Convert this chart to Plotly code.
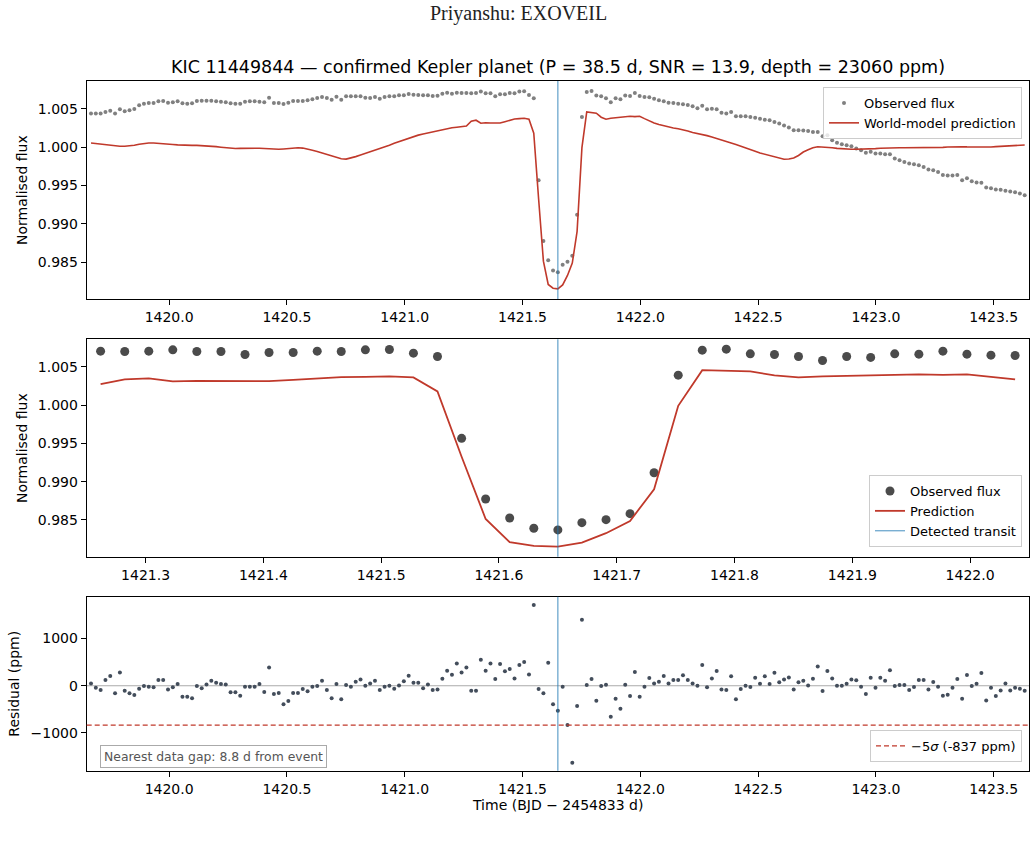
import plotly.graph_objects as go

# ---------------- data ----------------
T0 = 1421.65            # detected transit time
THRESH_PPM = -837       # -5 sigma threshold
GAP_DAYS = 8.8

TIME = [
    1419.6683, 1419.6887, 1419.7091, 1419.7296, 1419.7500, 1419.7704, 1419.7909, 1419.8113, 1419.8317, 1419.8522,
    1419.8726, 1419.8930, 1419.9134, 1419.9339, 1419.9543, 1419.9747, 1419.9952, 1420.0156, 1420.0360, 1420.0565,
    1420.0769, 1420.0973, 1420.1177, 1420.1382, 1420.1586, 1420.1790, 1420.1995, 1420.2199, 1420.2403, 1420.2608,
    1420.2812, 1420.3016, 1420.3220, 1420.3425, 1420.3629, 1420.3833, 1420.4038, 1420.4242, 1420.4446, 1420.4651,
    1420.4855, 1420.5059, 1420.5263, 1420.5468, 1420.5672, 1420.5876, 1420.6081, 1420.6285, 1420.6489, 1420.6694,
    1420.6898, 1420.7102, 1420.7306, 1420.7511, 1420.7715, 1420.7919, 1420.8124, 1420.8328, 1420.8532, 1420.8737,
    1420.8941, 1420.9145, 1420.9349, 1420.9554, 1420.9758, 1420.9962, 1421.0167, 1421.0371, 1421.0575, 1421.0780,
    1421.0984, 1421.1188, 1421.1392, 1421.1597, 1421.1801, 1421.2005, 1421.2210, 1421.2414,
    1421.2618, 1421.2823, 1421.3027, 1421.3231, 1421.3435, 1421.3640, 1421.3844, 1421.4048, 1421.4253, 1421.4457,
    1421.4661, 1421.4866, 1421.5070, 1421.5274, 1421.5478, 1421.5683, 1421.5887, 1421.6091, 1421.6296, 1421.6500,
    1421.6704, 1421.6909, 1421.7113, 1421.7317, 1421.7522, 1421.7726, 1421.7930, 1421.8134, 1421.8339, 1421.8543,
    1421.8747, 1421.8952, 1421.9156, 1421.9360, 1421.9565, 1421.9769, 1421.9973, 1422.0177, 1422.0382,
    1422.0586, 1422.0790, 1422.0995, 1422.1199, 1422.1403, 1422.1608, 1422.1812, 1422.2016, 1422.2220, 1422.2425,
    1422.2629, 1422.2833, 1422.3038, 1422.3242, 1422.3446, 1422.3651, 1422.3855, 1422.4059, 1422.4263, 1422.4468,
    1422.4672, 1422.4876, 1422.5081, 1422.5285, 1422.5489, 1422.5694, 1422.5898, 1422.6102, 1422.6306, 1422.6511,
    1422.6715, 1422.6919, 1422.7124, 1422.7328, 1422.7532, 1422.7737, 1422.7941, 1422.8145, 1422.8349, 1422.8554,
    1422.8758, 1422.8962, 1422.9167, 1422.9371, 1422.9575, 1422.9780, 1422.9984, 1423.0188, 1423.0392, 1423.0597,
    1423.0801, 1423.1005, 1423.1210, 1423.1414, 1423.1618, 1423.1823, 1423.2027, 1423.2231, 1423.2435, 1423.2640,
    1423.2844, 1423.3048, 1423.3253, 1423.3457, 1423.3661, 1423.3866, 1423.4070, 1423.4274, 1423.4478, 1423.4683,
    1423.4887, 1423.5091, 1423.5296, 1423.5500, 1423.5704, 1423.5909, 1423.6113, 1423.6317,
]

OBS_FLUX = [
    1.00435, 1.00435, 1.00435, 1.00456, 1.00473, 1.00435, 1.00491, 1.00465, 1.00478, 1.00495,
    1.00543, 1.00565, 1.00573, 1.00573, 1.00595, 1.00600, 1.00578, 1.00582, 1.00595, 1.00569,
    1.00565, 1.00569, 1.00600, 1.00604, 1.00604, 1.00604, 1.00595, 1.00591, 1.00582, 1.00569,
    1.00565, 1.00565, 1.00591, 1.00595, 1.00595, 1.00591, 1.00582, 1.00643, 1.00573, 1.00573,
    1.00560, 1.00578, 1.00600, 1.00600, 1.00600, 1.00608, 1.00621, 1.00638, 1.00651, 1.00638,
    1.00617, 1.00656, 1.00617, 1.00660, 1.00660, 1.00660, 1.00660, 1.00643, 1.00638, 1.00651,
    1.00630, 1.00651, 1.00660, 1.00660, 1.00673, 1.00673, 1.00690, 1.00682, 1.00677, 1.00673,
    1.00673, 1.00664, 1.00669, 1.00695, 1.00708, 1.00695, 1.00708, 1.00703,
    1.00705, 1.00701, 1.00705, 1.00722, 1.00701, 1.00701, 1.00662, 1.00688, 1.00688, 1.00705,
    1.00701, 1.00722, 1.00727, 1.00679, 1.00636, 0.99566, 0.98774, 0.98526, 0.98392, 0.98370,
    0.98465, 0.98504, 0.98582, 0.99117, 1.00392, 1.00718, 1.00731, 1.00670, 1.00662, 1.00636,
    1.00583, 1.00636, 1.00623, 1.00670, 1.00666, 1.00705, 1.00666, 1.00653, 1.00649,
    1.00630, 1.00608, 1.00595, 1.00578, 1.00573, 1.00565, 1.00556, 1.00547, 1.00530, 1.00504,
    1.00539, 1.00491, 1.00500, 1.00491, 1.00448, 1.00435, 1.00456, 1.00400, 1.00400, 1.00400,
    1.00391, 1.00382, 1.00369, 1.00356, 1.00348, 1.00326, 1.00305, 1.00279, 1.00253, 1.00218,
    1.00218, 1.00214, 1.00210, 1.00197, 1.00197, 1.00140, 1.00153, 1.00088, 1.00054, 1.00036,
    1.00023, 1.00010, 0.99980, 0.99958, 0.99924, 0.99937, 0.99915, 0.99915, 0.99906, 0.99906,
    0.99850, 0.99828, 0.99806, 0.99785, 0.99776, 0.99763, 0.99741, 0.99706, 0.99698, 0.99676,
    0.99637, 0.99628, 0.99628, 0.99637, 0.99568, 0.99594, 0.99555, 0.99537, 0.99533, 0.99472,
    0.99464, 0.99446, 0.99442, 0.99429, 0.99420, 0.99412, 0.99394, 0.99372,
]

PRED_FLUX = [
    1.00053, 1.00045, 1.00038, 1.00028, 1.00018, 1.00010, 1.00009, 1.00009, 1.00012, 1.00022,
    1.00035, 1.00045, 1.00052, 1.00053, 1.00050, 1.00043, 1.00036, 1.00032, 1.00028, 1.00024,
    1.00022, 1.00022, 1.00022, 1.00020, 1.00015, 1.00010, 1.00005, 0.99998, 0.99990, 0.99982,
    0.99980, 0.99982, 0.99984, 0.99985, 0.99985, 0.99984, 0.99980, 0.99975, 0.99972, 0.99970,
    0.99975, 0.99982, 0.99988, 0.99990, 0.99986, 0.99975, 0.99958, 0.99942, 0.99925, 0.99905,
    0.99885, 0.99865, 0.99848, 0.99842, 0.99855, 0.99875, 0.99895, 0.99915, 0.99935, 0.99955,
    0.99975, 0.99995, 1.00022, 1.00048, 1.00070, 1.00092, 1.00115, 1.00138, 1.00155, 1.00170,
    1.00185, 1.00200, 1.00215, 1.00230, 1.00242, 1.00250, 1.00258, 1.00265,
    1.00274, 1.00336, 1.00349, 1.00310, 1.00317, 1.00313, 1.00313, 1.00313, 1.00330, 1.00349,
    1.00366, 1.00370, 1.00375, 1.00362, 1.00179, 0.99326, 0.98513, 0.98209, 0.98161, 0.98152,
    0.98204, 0.98327, 0.98487, 0.98901, 0.99991, 1.00457, 1.00453, 1.00440, 1.00388, 1.00362,
    1.00375, 1.00383, 1.00392, 1.00392, 1.00401, 1.00396, 1.00401, 1.00370, 1.00336,
    1.00313, 1.00292, 1.00274, 1.00260, 1.00248, 1.00238, 1.00227, 1.00208, 1.00188, 1.00176,
    1.00165, 1.00148, 1.00130, 1.00108, 1.00087, 1.00070, 1.00052, 1.00032, 1.00013, 0.99992,
    0.99970, 0.99946, 0.99922, 0.99907, 0.99892, 0.99875, 0.99857, 0.99840, 0.99843, 0.99857,
    0.99890, 0.99935, 0.99965, 0.99991, 1.00004, 1.00002, 1.00000, 0.99990, 0.99982, 0.99976,
    0.99970, 0.99970, 0.99970, 0.99970, 0.99970, 0.99975, 0.99979, 0.99984, 0.99988, 0.99988,
    0.99988, 0.99990, 0.99991, 0.99991, 0.99991, 0.99990, 0.99988, 0.99988, 0.99988, 0.99992,
    0.99995, 1.00000, 1.00004, 1.00004, 1.00004, 1.00002, 1.00000, 0.99998, 0.99995, 0.99998,
    1.00000, 1.00005, 1.00009, 1.00013, 1.00018, 1.00020, 1.00022, 1.00026,
]

RESID_PPM = [
    49, -42, -92, 120, 205, -162, 282, -106, -162, -198,
    -64, -7, -21, -35, 120, 120, -78, -35, 35, -233,
    -233, -268, -7, -56, 28, 106, 64, 35, 28, -141,
    -141, -212, -21, -21, -21, 35, -134, 388, -177, -155,
    -395, -325, -155, -155, -71, -120, -21, -7, 106, -92,
    -268, 35, -289, 14, -21, 85, 134, 0, 49, 106,
    -92, -21, 0, -64, 7, 92, 212, 64, 64, -56,
    28, -92, -78, 148, 318, 233, 473, 282, 388, -106,
    -106, 551, 318, 473, 141, 459, 304, 353, 155, 438,
    501, 240, 1709, -71, -162, 487, -395, -530,
    -21, -833, -1631, -431, 1398, 14, 141, -318, -7, 21,
    -657, -275, -487, 21, -219, 289, -233, -21, 162, 49,
    85, 205, 49, 120, 120, 219, 120, 49, 0, 438,
    -35, 155, 311, -78, -92, 198, -289, -71, 0, -28,
    169, 42, 198, 35, 275, 71, 134, 176, -78, 71,
    106, 7, 148, 409, -113, 311, 155, 0, 0, 42,
    134, 113, -21, -177, 169, -42, 169, 106, 325, -7,
    14, 14, -92, -28, 120, 120, -78, 78, -21, -212,
    -191, -42, 141, -275, 226, -7, 42, 268, -311, -42,
    -219, -99, 49, -99, -42, -64, -106,
]

# ---------------- styling ----------------
W, H = 1036, 843
FONT = "DejaVu Sans"
RED = "#c0392b"
BLUE = "rgba(31,119,180,0.7)"
FS = 14        # tick labels / axis titles
FS_LEG = 13    # legend text

X_FULL = [1419.65, 1423.65]
ZOOM_HALF = 0.4
X_ZOOM = [T0 - ZOOM_HALF, T0 + ZOOM_HALF]
Y_FLUX = [0.9802, 1.0086]
Y_RES = [-1801, 1886]

def px_x(p):
    return p / W

def px_y(p):
    return 1 - p / H

X_DOM = [px_x(86.7), px_x(1029)]
DOM_TOP = [px_y(299), px_y(81)]
DOM_MID = [px_y(556.7), px_y(339.3)]
DOM_BOT = [px_y(770.7), px_y(596.7)]

zoom_idx = [i for i, t in enumerate(TIME) if abs(t - T0) <= ZOOM_HALF]
t_zoom = [TIME[i] for i in zoom_idx]
obs_zoom = [OBS_FLUX[i] for i in zoom_idx]
pred_zoom = [PRED_FLUX[i] for i in zoom_idx]

fig = go.Figure()

# top panel
fig.add_trace(go.Scatter(x=TIME, y=OBS_FLUX, mode="markers", name="Observed flux",
                         marker=dict(size=4, color="#808080"), xaxis="x", yaxis="y", legend="legend"))
fig.add_trace(go.Scatter(x=TIME, y=PRED_FLUX, mode="lines", name="World-model prediction",
                         line=dict(color=RED, width=1.6), xaxis="x", yaxis="y", legend="legend"))
# middle panel
fig.add_trace(go.Scatter(x=t_zoom, y=obs_zoom, mode="markers", name="Observed flux",
                         marker=dict(size=9, color="#4b4b4b"), xaxis="x2", yaxis="y2", legend="legend2"))
fig.add_trace(go.Scatter(x=t_zoom, y=pred_zoom, mode="lines", name="Prediction",
                         line=dict(color=RED, width=1.8), xaxis="x2", yaxis="y2", legend="legend2"))
# bottom panel
fig.add_trace(go.Scatter(x=TIME, y=RESID_PPM, mode="markers", showlegend=False,
                         marker=dict(size=4, color="#434d5b"), xaxis="x3", yaxis="y3"))

shapes = [
    dict(type="line", xref="x", yref="y domain", x0=T0, x1=T0, y0=0, y1=1,
         line=dict(color=BLUE, width=1.2)),
    dict(type="line", xref="x2", yref="y2 domain", x0=T0, x1=T0, y0=0, y1=1,
         line=dict(color=BLUE, width=1.2), showlegend=True, legend="legend2",
         name="Detected transit", legendrank=1001),
    dict(type="line", xref="x3", yref="y3 domain", x0=T0, x1=T0, y0=0, y1=1,
         line=dict(color=BLUE, width=1.2)),
    dict(type="line", xref="x3 domain", yref="y3", x0=0, x1=1, y0=0, y1=0,
         line=dict(color="#aaaaaa", width=1.1), layer="below"),
    dict(type="line", xref="x3 domain", yref="y3", x0=0, x1=1, y0=THRESH_PPM, y1=THRESH_PPM,
         line=dict(color=RED, width=1.2, dash="5px,3px"), showlegend=True, legend="legend3",
         name="\u22125<i>\u03c3</i> (%d ppm)" % THRESH_PPM),
]

axis_common = dict(showline=True, linecolor="black", linewidth=1, mirror=True, ticks="outside",
                   ticklen=5, tickwidth=1, tickcolor="black", showgrid=False, zeroline=False,
                   tickfont=dict(family=FONT, size=FS, color="black"), automargin=False)

flux_ticks = [0.985, 0.990, 0.995, 1.000, 1.005]

legend_common = dict(bgcolor="rgba(255,255,255,0.8)", bordercolor="#cccccc", borderwidth=1,
                     font=dict(family=FONT, size=FS_LEG, color="black"), itemwidth=30,
                     tracegroupgap=0, xanchor="right")


def label(text, x, y, size=FS, angle=0, family=FONT, color="black"):
    return dict(text=text, x=px_x(x), y=px_y(y), xref="paper", yref="paper",
                xanchor="center", yanchor="middle", showarrow=False, textangle=angle,
                font=dict(family=family, size=size, color=color))


annotations = [
    label("Priyanshu: EXOVEIL", 518, 14, size=20, family="Liberation Serif", color="#222222"),
    label("KIC 11449844 \u2014 confirmed Kepler planet (P = 38.5 d, SNR = 13.9, depth = 23060 ppm)",
          557.8, 67, size=17.5),
    label("Normalised flux", 22, 190, angle=-90),
    label("Normalised flux", 22, 448, angle=-90),
    label("Residual (ppm)", 14, 683.7, angle=-90),
    label("Time (BJD \u2212 2454833 d)", 557.8, 805),
    dict(text="Nearest data gap: %.1f d from event" % GAP_DAYS, x=px_x(100), y=px_y(768),
         xref="paper", yref="paper", xanchor="left", yanchor="bottom", showarrow=False,
         font=dict(family=FONT, size=12.4, color="#555555"), bgcolor="rgba(255,255,255,0.8)",
         bordercolor="#aaaaaa", borderwidth=1, borderpad=3),
]

fig.update_layout(
    width=W, height=H, margin=dict(l=0, r=0, t=0, b=0),
    paper_bgcolor="white", plot_bgcolor="white",
    font=dict(family=FONT, size=FS, color="black"),
    xaxis=dict(axis_common, domain=X_DOM, range=X_FULL, anchor="y", tick0=1420, dtick=0.5, tickformat=".1f"),
    yaxis=dict(axis_common, domain=DOM_TOP, range=Y_FLUX, anchor="x", tickvals=flux_ticks, tickformat=".3f"),
    xaxis2=dict(axis_common, domain=X_DOM, range=X_ZOOM, anchor="y2", tick0=1421.3, dtick=0.1, tickformat=".1f"),
    yaxis2=dict(axis_common, domain=DOM_MID, range=Y_FLUX, anchor="x2", tickvals=flux_ticks, tickformat=".3f"),
    xaxis3=dict(axis_common, domain=X_DOM, range=X_FULL, anchor="y3", tick0=1420, dtick=0.5, tickformat=".1f"),
    yaxis3=dict(axis_common, domain=DOM_BOT, range=Y_RES, anchor="x3", tickvals=[-1000, 0, 1000],
                ticktext=["\u22121000", "0", "1000"]),
    legend=dict(legend_common, x=px_x(1022), y=px_y(87), yanchor="top"),
    legend2=dict(legend_common, x=px_x(1022), y=px_y(547), yanchor="bottom"),
    legend3=dict(legend_common, x=px_x(1022), y=px_y(762), yanchor="bottom"),
    shapes=shapes,
    annotations=annotations,
    showlegend=True,
)

fig.write_html("out.html", config={"displayModeBar": False})
